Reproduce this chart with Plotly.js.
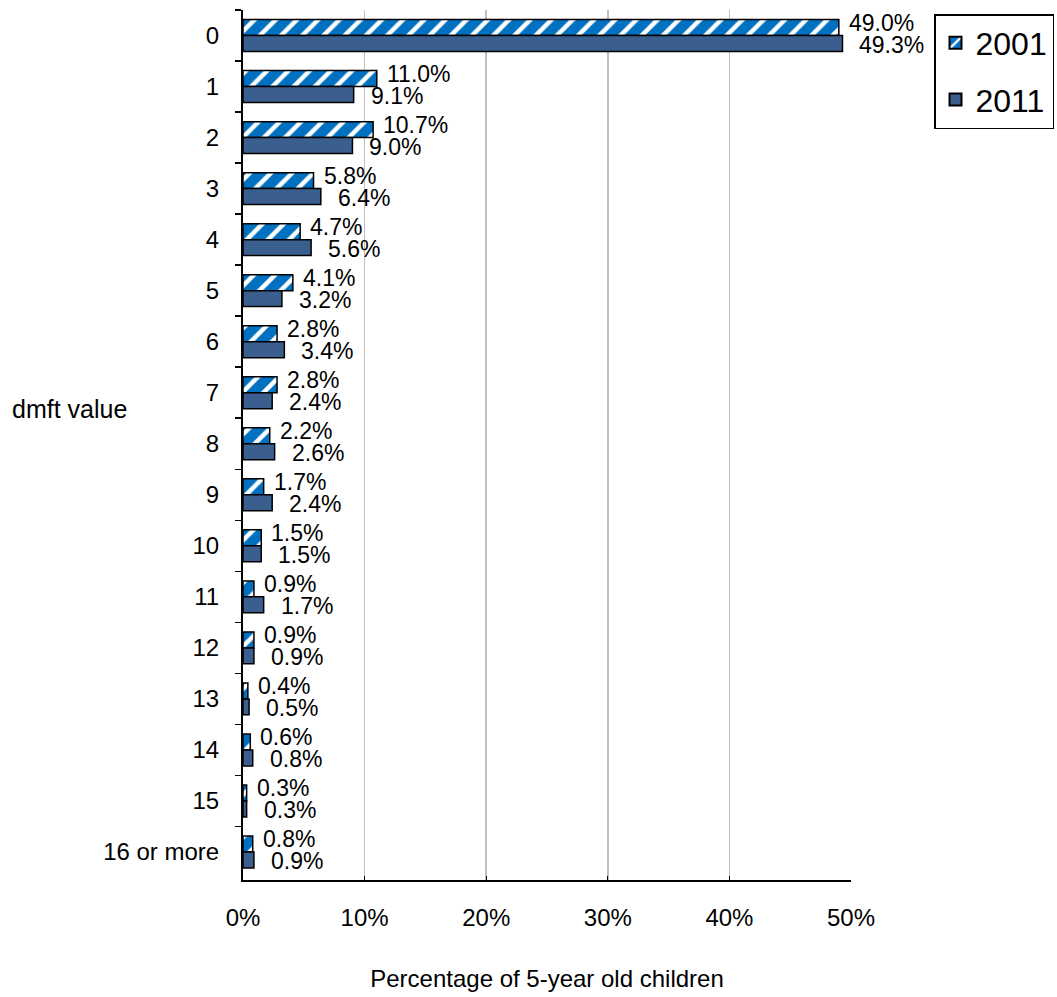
<!DOCTYPE html>
<html>
<head>
<meta charset="utf-8">
<script src="https://cdn.plot.ly/plotly-3.0.1.min.js"></script>
<style>html,body{margin:0;padding:0;background:#fff;}#chart{width:1057px;height:997px;}</style>
</head>
<body>
<div id="chart"></div>
<script>
const categories = ["0","1","2","3","4","5","6","7","8","9","10","11","12","13","14","15","16 or more"];
const values2001 = [49.0, 11.0, 10.7, 5.8, 4.7, 4.1, 2.8, 2.8, 2.2, 1.7, 1.5, 0.9, 0.9, 0.4, 0.6, 0.3, 0.8];
const values2011 = [49.3, 9.1, 9.0, 6.4, 5.6, 3.2, 3.4, 2.4, 2.6, 2.4, 1.5, 1.7, 0.9, 0.5, 0.8, 0.3, 0.9];
const xTickVals = [0, 10, 20, 30, 40, 50];
const xTickText = ["0%", "10%", "20%", "30%", "40%", "50%"];

const fam = "Liberation Sans, Arial, sans-serif";
const f = (size) => ({family: fam, color: "#000", size: size});

const traces = [
  {
    type: "bar", orientation: "h", name: "2001", legendgroup: "g2001",
    y: categories, x: values2001,
    marker: {
      color: "#0070C0",
      line: {color: "#000", width: 1.5},
      pattern: {shape: "/", fgcolor: "#FFFFFF", bgcolor: "#0070C0", size: 15, solidity: 0.3, fillmode: "replace"}
    },
    hoverinfo: "skip"
  },
  {
    type: "bar", orientation: "h", name: "2011", legendgroup: "g2011",
    y: categories, x: values2011,
    marker: {color: "#3A5F8F", line: {color: "#000", width: 1.5}},
    hoverinfo: "skip"
  }
];

const L = 243, R = 206, T = 10, B = 117, W = 1057, H = 997;
const pw = W - L - R, ph = H - T - B;

const annotations = [];
categories.forEach((c, i) => {
  annotations.push({x: values2001[i], y: c, xref: "x", yref: "y", text: values2001[i].toFixed(1) + "%",
    showarrow: false, xanchor: "left", yanchor: "middle", xshift: 8, yshift: 13, font: f(23)});
  annotations.push({x: values2011[i], y: c, xref: "x", yref: "y", text: values2011[i].toFixed(1) + "%",
    showarrow: false, xanchor: "left", yanchor: "middle", xshift: 15, yshift: -9, font: f(23)});
});
annotations.push({x: (10 - L) / pw, y: (H - B - 409) / ph, xref: "paper", yref: "paper",
  text: "dmft value", showarrow: false, xanchor: "left", yanchor: "middle", font: f(25)});

const layout = {
  width: W, height: H,
  margin: {l: L, r: R, t: T, b: B, pad: 0, autoexpand: false},
  paper_bgcolor: "#fff", plot_bgcolor: "#fff",
  font: f(24),
  barmode: "group", bargap: 0.375, bargroupgap: 0,
  showlegend: true,
  legend: {
    x: (934 - L) / pw, y: 1 - (14 - T) / ph, xanchor: "left", yanchor: "top",
    bordercolor: "#000", borderwidth: 1.5, bgcolor: "#fff",
    font: f(32), tracegroupgap: 12,
    itemsizing: "constant", itemwidth: 30
  },
  xaxis: {
    range: [0, 50], tickvals: xTickVals, ticktext: xTickText,
    showgrid: true, gridcolor: "#BFBFBF", gridwidth: 1.5,
    zeroline: false, showline: true, linecolor: "#000", linewidth: 2,
    ticks: "inside", ticklen: 4, tickcolor: "#000",
    ticklabelstandoff: 15, automargin: false,
    tickfont: f(24),
    title: {text: "Percentage of 5-year old children", font: f(24), standoff: 40},
    fixedrange: true
  },
  yaxis: {
    type: "category", categoryorder: "array", categoryarray: categories,
    autorange: "reversed", automargin: false,
    showline: true, linecolor: "#000", linewidth: 2,
    ticks: "outside", ticklen: 6, tickcolor: "#000", tickwidth: 1.5,
    tickson: "boundaries",
    showgrid: false, zeroline: false,
    ticklabelstandoff: 17,
    tickfont: f(24),
    fixedrange: true
  },
  annotations: annotations
};

Plotly.newPlot("chart", traces, layout, {displayModeBar: false, staticPlot: true});
</script>
</body>
</html>
